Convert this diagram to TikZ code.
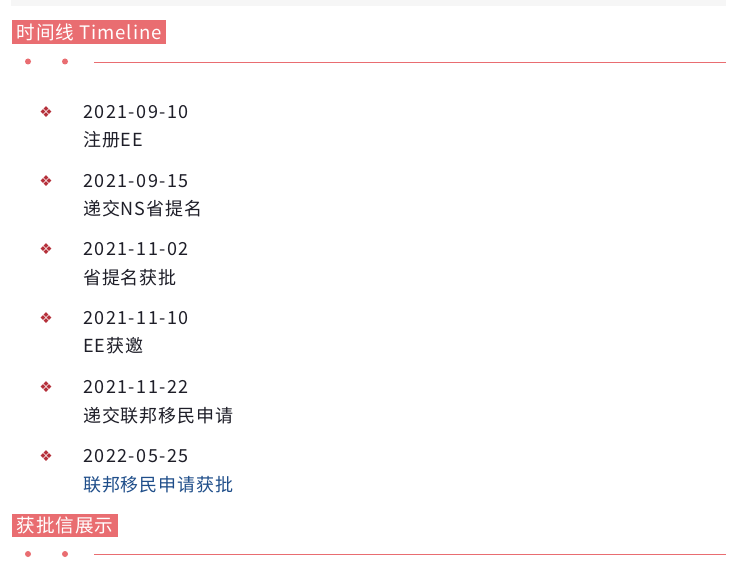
\documentclass[tikz,border=0pt]{standalone}
\usepackage{fontspec}
\setmainfont{Noto Sans CJK SC}[LetterSpace=5]
\newfontfamily\symfont{DejaVu Sans}
\usetikzlibrary{positioning}

\definecolor{titlered}{HTML}{E96D71}
\definecolor{bulletred}{HTML}{B5303A}
\definecolor{itemtext}{HTML}{1E1E28}
\definecolor{itemblue}{HTML}{1F4E8A}
\definecolor{barfill}{HTML}{F6F6F6}

\tikzset{
    heading/.style={fill=titlered, text=white, anchor=west, inner xsep=4.5pt,
        minimum height=22pt, font=\fontsize{18.6}{20}\selectfont},
    bullet/.style={text=bulletred, inner sep=0pt, font=\symfont\fontsize{15}{16}\selectfont},
    itemdesc/.style={anchor=west, inner sep=0pt, text=itemtext, font=\fontsize{18}{20}\selectfont},
    itemdate/.style={itemdesc, font=\fontsize{18}{20}\selectfont\addfontfeatures{LetterSpace=8}},
    dotmark/.style={fill=titlered, draw=none},
    rule/.style={draw=titlered, line width=0.9pt}
}

\begin{document}
\begin{tikzpicture}[x=1pt,y=-1pt]

    \useasboundingbox[fill=white] (0,0) rectangle (742,578);

    % grey strip at the top
    \fill[barfill] (11,0) rectangle (726,6);

    %%%%%%%%%%%%%%%%%%%%%%%%%%%%%%%%%%%%%%%%%%%%%%%%%%%%%%

    % timeline heading
    \node[heading] (head1) at (12,32) {时间线 Timeline};
    \fill[dotmark] (28,61.5) circle (3);
    \fill[dotmark] (65,61.5) circle (3);
    \draw[rule] (94,62) -- (726,62);

    %%%%%%%%%%%%%%%%%%%%%%%%%%%%%%%%%%%%%%%%%%%%%%%%%%%%%%

    % EE registration
    \node[bullet] (b1) at (46,112) {❖};
    \node[itemdate] (d1) at (83,112) {2021-09-10};
    \node[itemdesc] (t1) at (83,140) {注册EE};

    % NS nomination submitted
    \node[bullet] (b2) at (46,181) {❖};
    \node[itemdate] (d2) at (83,181) {2021-09-15};
    \node[itemdesc] (t2) at (83,209) {递交NS省提名};

    % nomination approved
    \node[bullet] (b3) at (46,249) {❖};
    \node[itemdate] (d3) at (83,249) {2021-11-02};
    \node[itemdesc] (t3) at (83,278) {省提名获批};

    % EE invitation
    \node[bullet] (b4) at (46,318) {❖};
    \node[itemdate] (d4) at (83,318) {2021-11-10};
    \node[itemdesc] (t4) at (83,346) {EE获邀};

    % federal application submitted
    \node[bullet] (b5) at (46,387) {❖};
    \node[itemdate] (d5) at (83,387) {2021-11-22};
    \node[itemdesc] (t5) at (83,416) {递交联邦移民申请};

    % federal application approved
    \node[bullet] (b6) at (46,456) {❖};
    \node[itemdate] (d6) at (83,456) {2022-05-25};
    \node[itemdesc, text=itemblue] (t6) at (83,485) {联邦移民申请获批};

    %%%%%%%%%%%%%%%%%%%%%%%%%%%%%%%%%%%%%%%%%%%%%%%%%%%%%%

    % approval letter heading
    \node[heading] (head2) at (12,525.5) {获批信展示};
    \fill[dotmark] (28,554) circle (3);
    \fill[dotmark] (65,554) circle (3);
    \draw[rule] (94,554.5) -- (726,554.5);

\end{tikzpicture}
\end{document}
